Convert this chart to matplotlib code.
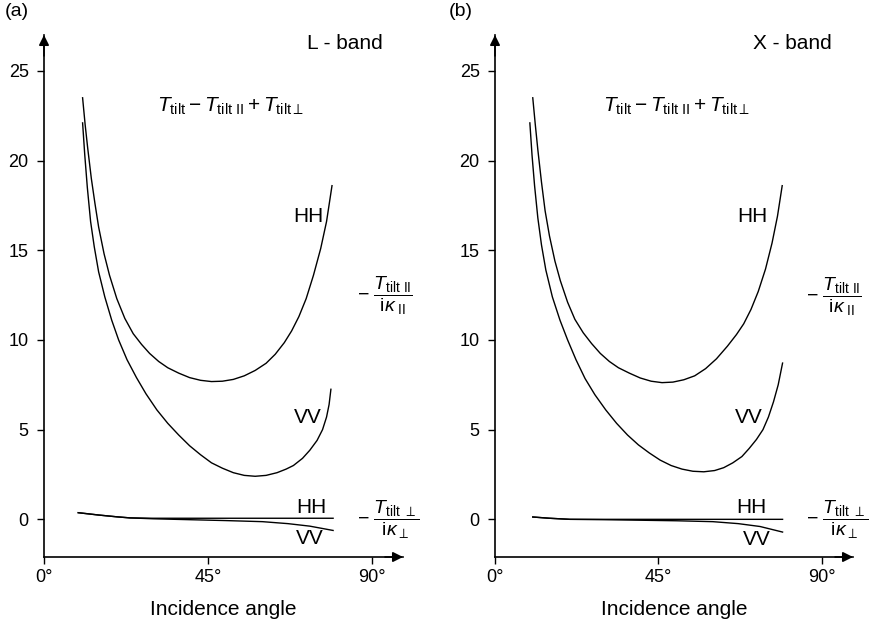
import numpy as np
import matplotlib.pyplot as plt

plt.rcParams['font.family'] = ['Liberation Sans', 'DejaVu Sans']
plt.rcParams['mathtext.fontset'] = 'custom'
plt.rcParams['mathtext.rm'] = 'Liberation Sans'
plt.rcParams['mathtext.it'] = 'Liberation Sans:italic'
plt.rcParams['mathtext.bf'] = 'Liberation Sans:bold'

# L-band: total tilt modulation (HH, VV) vs incidence angle [deg]
l_hh_ang = [10.6, 11.3, 12.0, 13.0, 14.0, 15.0, 16.5, 18.0, 20.0, 22.2, 24.5,
            26.8, 29.0, 31.5, 34.0, 37.0, 40.0, 43.0, 46.0, 49.0, 52.0, 55.0,
            58.0, 61.0, 63.5, 66.0, 68.0, 70.0, 72.0, 74.0, 76.0, 77.6, 79.1]
l_hh_val = [23.5, 22.0, 20.7, 19.0, 17.6, 16.3, 14.8, 13.6, 12.3, 11.2, 10.35,
            9.75, 9.25, 8.8, 8.45, 8.15, 7.9, 7.75, 7.68, 7.7, 7.8, 8.0,
            8.3, 8.7, 9.2, 9.85, 10.5, 11.3, 12.3, 13.6, 15.1, 16.6, 18.6]
l_vv_ang = [10.6, 11.2, 11.9, 12.8, 13.8, 15.0, 16.7, 18.6, 20.5, 22.8, 25.4,
            28.0, 31.0, 34.0, 37.0, 40.0, 43.0, 46.0, 49.0, 52.0, 55.0, 58.0,
            61.0, 64.0, 66.5, 68.5, 71.0, 73.0, 75.0, 76.5, 77.6, 78.3, 78.8]
l_vv_val = [22.1, 20.3, 18.5, 16.6, 15.2, 13.8, 12.4, 11.1, 10.0, 8.9, 7.9,
            7.0, 6.1, 5.35, 4.7, 4.1, 3.6, 3.15, 2.85, 2.6, 2.45, 2.4,
            2.45, 2.6, 2.8, 3.0, 3.4, 3.85, 4.4, 5.0, 5.7, 6.4, 7.25]

# L-band: perpendicular term
l_perp_ang = [9.4, 15.0, 20.0, 23.6, 30.0, 40.0, 50.0, 60.0, 67.0, 73.0, 79.4]
l_perp_hh = [0.37, 0.24, 0.14, 0.08, 0.06, 0.06, 0.06, 0.06, 0.06, 0.06, 0.06]
l_perp_vv = [0.37, 0.24, 0.14, 0.08, 0.03, -0.02, -0.07, -0.13, -0.24, -0.38, -0.62]

# X-band
x_hh_ang = [10.4, 11.1, 11.8, 12.8, 13.8, 15.0, 16.5, 18.0, 20.0, 22.0, 24.3,
            26.6, 29.0, 31.5, 34.0, 37.0, 40.0, 43.0, 46.0, 49.0, 52.0, 55.0,
            58.0, 61.0, 64.0, 66.5, 68.5, 70.5, 72.5, 74.5, 76.3, 77.8, 79.1]
x_hh_val = [23.5, 22.0, 20.6, 18.8, 17.2, 15.8, 14.4, 13.3, 12.1, 11.15, 10.4,
            9.8, 9.25, 8.8, 8.45, 8.15, 7.88, 7.7, 7.62, 7.65, 7.78, 8.0,
            8.4, 8.95, 9.65, 10.3, 10.9, 11.7, 12.7, 13.95, 15.4, 16.9, 18.6]
x_vv_ang = [9.6, 10.2, 10.9, 11.8, 12.8, 14.0, 15.8, 17.9, 20.0, 22.3, 24.8,
            27.5, 30.5, 33.5, 36.5, 39.5, 42.5, 45.5, 48.5, 51.5, 54.5, 57.5,
            60.5, 63.0, 65.5, 68.0, 70.0, 72.0, 73.8, 75.3, 76.7, 78.0, 79.2]
x_vv_val = [22.1, 20.3, 18.6, 16.8, 15.3, 13.9, 12.4, 11.1, 10.0, 8.9, 7.85,
            6.95, 6.1, 5.35, 4.7, 4.15, 3.7, 3.3, 3.0, 2.8, 2.68, 2.65,
            2.72, 2.88, 3.15, 3.5, 3.95, 4.45, 5.0, 5.7, 6.55, 7.5, 8.71]

x_perp_ang = [10.4, 15.0, 20.6, 30.0, 40.0, 50.0, 60.0, 67.0, 73.0, 79.2]
x_perp_hh = [0.13, 0.06, 0.0, 0.0, 0.0, 0.0, 0.0, 0.0, 0.0, 0.0]
x_perp_vv = [0.13, 0.06, 0.0, -0.02, -0.05, -0.08, -0.13, -0.24, -0.40, -0.71]

yticks = [0, 5, 10, 15, 20, 25]
xticks = [0, 45, 90]
xticklabels = ['0°', '45°', '90°']

W, H = 871, 625
fig = plt.figure(figsize=(W / 100, H / 100), dpi=100)
ax1 = fig.add_axes([44 / W, 1 - 557 / H, 359 / W, 522 / H])
ax2 = fig.add_axes([495 / W, 1 - 557 / H, 358 / W, 522 / H])

top_txt = r'$T_{\rm tilt} - T_{\rm tilt\ II} + T_{\rm tilt\perp}$'
par_txt = r'$-\ \dfrac{T_{\rm tilt\ II}}{{\rm i}\kappa_{\rm\ II}}$'
perp_txt = r'$-\ \dfrac{T_{\rm tilt\ \perp}}{{\rm i}\kappa_{\perp}}$'


def setup(ax, band, tx, lab):
    ax.set_xlim(0, 98.6)
    ax.set_ylim(-2.1, 27.0)
    for s in ['top', 'right']:
        ax.spines[s].set_visible(False)
    for s in ['left', 'bottom']:
        ax.spines[s].set_linewidth(1.2)
    ax.set_xticks(xticks)
    ax.set_xticklabels(xticklabels)
    ax.set_yticks(yticks)
    ax.tick_params(labelsize=13, length=5, width=1.0, direction='out')
    ax.tick_params(axis='y', pad=6)
    ax.set_xlabel('Incidence angle', fontsize=15, labelpad=10)
    # arrow heads on the axes
    ax.annotate('', xy=(0, 1), xytext=(0, 0.96), xycoords='axes fraction',
                arrowprops=dict(arrowstyle='-|>', lw=1.2, color='k',
                                mutation_scale=15, shrinkA=0, shrinkB=0))
    ax.annotate('', xy=(1, 0), xytext=(0.95, 0), xycoords='axes fraction',
                arrowprops=dict(arrowstyle='-|>', lw=1.2, color='k',
                                mutation_scale=15, shrinkA=0, shrinkB=0))
    ax.text(tx, 26.55, band, fontsize=15, ha='center', va='center')
    fig.text(lab[0] / W, 1 - lab[1] / H, lab[2], fontsize=14,
             ha='center', va='center')


setup(ax1, 'L - band', 82.6, (17, 12, '(a)'))
setup(ax2, 'X - band', 81.8, (461, 12, '(b)'))

lw = 1.0
ax1.plot(l_hh_ang, l_hh_val, color='k', lw=lw)
ax1.plot(l_vv_ang, l_vv_val, color='k', lw=lw)
ax1.plot(l_perp_ang, l_perp_hh, color='k', lw=lw)
ax1.plot(l_perp_ang, l_perp_vv, color='k', lw=lw)

ax2.plot(x_hh_ang, x_hh_val, color='k', lw=lw)
ax2.plot(x_vv_ang, x_vv_val, color='k', lw=lw)
ax2.plot(x_perp_ang, x_perp_hh, color='k', lw=lw)
ax2.plot(x_perp_ang, x_perp_vv, color='k', lw=lw)

# labels on the curves
for ax, pos in [(ax1, [(51.3, 23.0), (72.7, 16.9), (72.4, 5.7),
                       (73.3, 0.67), (73.0, -1.06), (85.9, 12.47), (85.9, -0.02)]),
                (ax2, [(50.1, 23.0), (71.0, 16.9), (70.0, 5.7),
                       (70.7, 0.67), (72.1, -1.12), (85.6, 12.4), (85.6, -0.02)])]:
    ax.text(*pos[0], top_txt, fontsize=15, ha='center', va='center')
    ax.text(*pos[1], 'HH', fontsize=15, ha='center', va='center')
    ax.text(*pos[2], 'VV', fontsize=15, ha='center', va='center')
    ax.text(*pos[3], 'HH', fontsize=15, ha='center', va='center')
    ax.text(*pos[4], 'VV', fontsize=15, ha='center', va='center')
    ax.text(*pos[5], par_txt, fontsize=14, ha='left', va='center', clip_on=False)
    ax.text(*pos[6], perp_txt, fontsize=14, ha='left', va='center', clip_on=False)

fig.savefig('out.png', dpi=100)
